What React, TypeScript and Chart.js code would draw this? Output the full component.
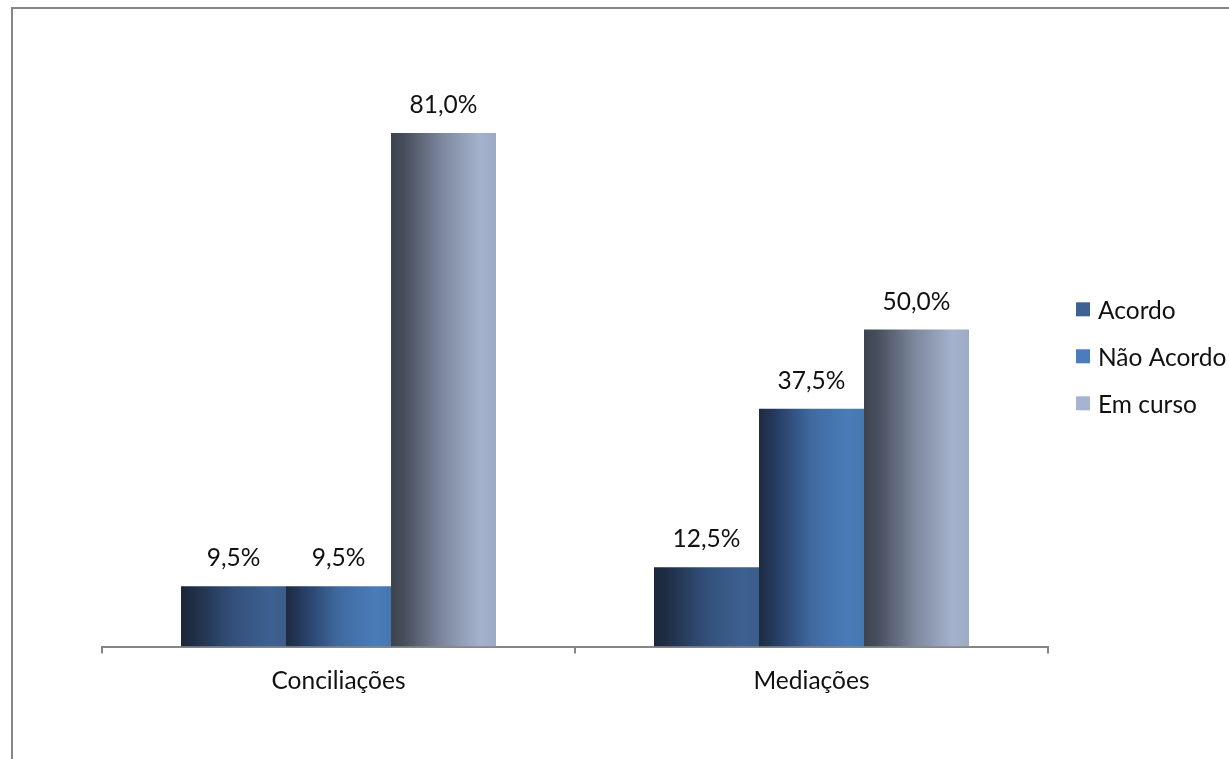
import React, { useEffect, useRef } from "react";
import { Chart, registerables } from "chart.js";

Chart.register(...registerables);

const categories = ["Conciliações", "Mediações"];
const seriesNames = ["Acordo", "Não Acordo", "Em curso"];
const acordo = [9.5, 12.5];
const naoAcordo = [9.5, 37.5];
const emCurso = [81.0, 50.0];

const legendColors = ["#3d6293", "#4a7dbd", "#a5b4d1"];
const gradientStops: [number, string][][] = [
  [[0, "#1b2639"], [0.12, "#1f2e45"], [0.5, "#33507a"], [0.85, "#3d6191"], [1, "#3b5d8b"]],
  [[0, "#1e2b40"], [0.12, "#24375a"], [0.5, "#3f6aa0"], [0.85, "#4a7cb9"], [1, "#4677b0"]],
  [[0, "#3e434d"], [0.12, "#464d5b"], [0.5, "#7f8aa0"], [0.85, "#a4b2cd"], [1, "#9caac6"]],
];

const CAT_PCT = 0.666;
const FONT = "Lato";
const FSIZE = 24.5;

const fmt = (v: number) => v.toFixed(1).replace(".", ",") + "%";

const valueLabels = {
  id: "valueLabels",
  afterDatasetsDraw(chart: any) {
    const ctx = chart.ctx;
    ctx.save();
    ctx.font = `${FSIZE}px ${FONT}`;
    ctx.fillStyle = "#111111";
    ctx.textAlign = "center";
    ctx.textBaseline = "middle";
    chart.data.datasets.forEach((ds: any, i: number) => {
      const meta = chart.getDatasetMeta(i);
      meta.data.forEach((el: any, j: number) => {
        ctx.fillText(fmt(ds.data[j]), el.x, el.y - 28);
      });
    });
    ctx.restore();
  },
};

const sideLegend = {
  id: "sideLegend",
  afterDraw(chart: any) {
    const ctx = chart.ctx;
    ctx.save();
    ctx.font = `${FSIZE}px ${FONT}`;
    ctx.textAlign = "left";
    ctx.textBaseline = "middle";
    const x0 = chart.chartArea.right + 28;
    const yc = (chart.chartArea.top + chart.chartArea.bottom) / 2 - 5;
    const step = 47;
    chart.data.datasets.forEach((ds: any, i: number) => {
      const y = yc + (i - 1) * step;
      ctx.fillStyle = ds.legendColor;
      ctx.fillRect(x0, y - 7, 14, 14);
      ctx.fillStyle = "#111111";
      ctx.fillText(ds.label, x0 + 22, y + 2);
    });
    ctx.restore();
  },
};

function makeBg(dsIndex: number) {
  return (c: any) => {
    const chart = c.chart;
    const xs = chart.scales?.x;
    if (!xs || c.type !== "data" || !chart.chartArea) return legendColors[dsIndex];
    const catW = xs.width / categories.length;
    const bw = (catW * CAT_PCT) / 3;
    const center = xs.getPixelForValue(c.dataIndex) + (dsIndex - 1) * bw;
    const g = chart.ctx.createLinearGradient(center - bw / 2, 0, center + bw / 2, 0);
    gradientStops[dsIndex].forEach(([o, col]) => g.addColorStop(o, col));
    return g;
  };
}

export default function App() {
  const ref = useRef<HTMLCanvasElement>(null);
  useEffect(() => {
    if (!ref.current) return;
    const seriesData = [acordo, naoAcordo, emCurso];
    const chart = new Chart(ref.current, {
      type: "bar",
      data: {
        labels: categories,
        datasets: seriesNames.map((name, i) => ({
          label: name,
          data: seriesData[i],
          backgroundColor: makeBg(i),
          legendColor: legendColors[i],
          borderWidth: 0,
          categoryPercentage: CAT_PCT,
          barPercentage: 1,
        })) as any,
      },
      options: {
        responsive: false,
        animation: false,
        devicePixelRatio: 1,
        layout: { padding: { left: 102, right: 181, top: 76, bottom: 50 } },
        plugins: { legend: { display: false }, tooltip: { enabled: false } },
        scales: {
          x: {
            grid: {
              display: true,
              drawOnChartArea: false,
              drawTicks: true,
              tickLength: 7,
              color: "#868686",
              lineWidth: 2,
            },
            border: { display: true, color: "#868686", width: 2 },
            ticks: { color: "#111111", font: { family: FONT, size: FSIZE }, padding: 13 },
          },
          y: { display: false, min: 0, max: 90 },
        },
      },
      plugins: [valueLabels, sideLegend],
    });
    return () => chart.destroy();
  }, []);
  return (
    <div style={{ position: "absolute", left: 0, top: 0, width: 1229, height: 759, overflow: "hidden", background: "#fff" }}>
      <div style={{ position: "absolute", left: 11, top: 7, width: 1300, height: 800, border: "2px solid #868686" }} />
      <canvas ref={ref} width={1229} height={759} style={{ position: "absolute", left: 0, top: 0 }} />
    </div>
  );
}
